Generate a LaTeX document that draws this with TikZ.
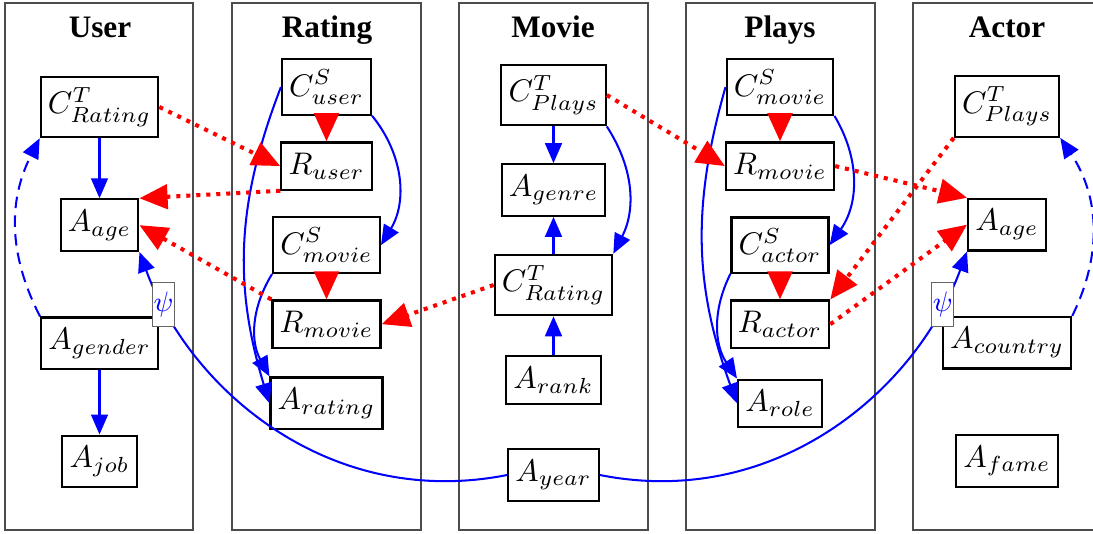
\documentclass[tikz,border=0pt]{standalone}
\usepackage{fontspec}
\newfontfamily\headfont{Liberation Serif}
\usepackage{tikz}
\usetikzlibrary{arrows.meta}
\usetikzlibrary{positioning}
\tikzstyle{panel} = [draw=black!70, line width=0.4pt]
\tikzstyle{head} = [font=\headfont\bfseries, anchor=base]
\tikzstyle{box} = [rectangle, draw, line width=0.7pt, inner xsep=2.3pt, inner ysep=3.4pt]
\tikzstyle{edge} = [draw=blue, line width=0.65pt, -{Triangle[length=6.4pt,width=5.4pt]}]
\tikzstyle{dashedge} = [edge, dash pattern=on 3.7pt off 2.3pt]
\tikzstyle{redge} = [draw=red, line width=1.3pt, dash pattern=on 1.3pt off 1.9pt,
    -{Triangle[length=9pt,width=7.8pt]}]
\tikzstyle{psi} = [draw=black!60, line width=0.3pt, fill=white, text=blue,
    font=\small, inner xsep=0.3pt, inner ysep=3pt]

\begin{document}
\begin{tikzpicture}[x=0.32pt, y=0.32pt, node distance=2cm]
  \useasboundingbox (0,0) rectangle (1093,-533);
  % Tables
  \draw [panel] (5,-3) rectangle (193,-530);
  \draw [panel] (232,-3) rectangle (421,-530);
  \draw [panel] (459,-3) rectangle (648,-530);
  \draw [panel] (686,-3) rectangle (875,-530);
  \draw [panel] (1093,-3) -- (913,-3) -- (913,-530) -- (1093,-530);
  \node [head] (huser) at (100,-37) {User};
  \node [head] (hrating) at (327,-37) {Rating};
  \node [head] (hmovie) at (553,-37) {Movie};
  \node [head] (hplays) at (780,-37) {Plays};
  \node [head] (hactor) at (1007,-37) {Actor};

  % Place nodes
  \node [box] (uctrating) at (99.5,-107) {$C^{T}_{Rating}$};
  \node [box, below of=uctrating, node distance=37.8pt] (uage) {$A_{age}$};
  \node [box, below of=uage, node distance=37.8pt] (ugender) {$A_{gender}$};
  \node [box, below of=ugender, node distance=37.8pt] (ujob) {$A_{job}$};

  \node [box] (csuser) at (326.5,-87) {$C^{S}_{user}$};
  \node [box, below of=csuser, node distance=25.3pt] (ruser) {$R_{user}$};
  \node [box, below of=ruser, node distance=25.3pt] (csmovie) {$C^{S}_{movie}$};
  \node [box, below of=csmovie, node distance=25.3pt] (rmovie) {$R_{movie}$};
  \node [box, below of=rmovie, node distance=25.3pt] (arating) {$A_{rating}$};

  \node [box] (ctplays) at (553.5,-95) {$C^{T}_{Plays}$};
  \node [box, below of=ctplays, node distance=30.4pt] (agenre) {$A_{genre}$};
  \node [box, below of=agenre, node distance=30.4pt] (ctrating) {$C^{T}_{Rating}$};
  \node [box, below of=ctrating, node distance=30.4pt] (arank) {$A_{rank}$};
  \node [box, below of=arank, node distance=30.4pt] (ayear) {$A_{year}$};

  \node [box] (pcsmovie) at (780,-87) {$C^{S}_{movie}$};
  \node [box, below of=pcsmovie, node distance=25.3pt] (prmovie) {$R_{movie}$};
  \node [box, below of=prmovie, node distance=25.3pt] (pcsactor) {$C^{S}_{actor}$};
  \node [box, below of=pcsactor, node distance=25.3pt] (pract) {$R_{actor}$};
  \node [box, below of=pract, node distance=25.3pt] (arole) {$A_{role}$};

  \node [box] (actplays) at (1007,-106.5) {$C^{T}_{Plays}$};
  \node [box, below of=actplays, node distance=37.8pt] (aage) {$A_{age}$};
  \node [box, below of=aage, node distance=37.8pt] (acountry) {$A_{country}$};
  \node [box, below of=acountry, node distance=37.8pt] (afame) {$A_{fame}$};

  % User
  \path [edge] (uctrating) -- (uage);
  \path [edge] (ugender) -- (ujob);
  \path [dashedge] (ugender.north west) to [bend left=27] (uctrating.south west);

  % Rating
  \path [redge] (csuser) -- (ruser);
  \path [redge] (csmovie) -- (rmovie);
  \path [edge] (csuser.south east) to [bend left=35] (csmovie.east);
  \path [edge] (csuser.west) to [bend right=19] (arating.west);
  \path [edge] (csmovie.south west) to [bend right=30] (arating.north west);

  % Movie
  \path [edge] (ctplays) -- (agenre);
  \path [edge] (ctrating) -- (agenre);
  \path [edge] (arank) -- (ctrating);
  \path [edge] (ctplays.south east) to [bend left=30] (ctrating.north east);

  % Plays
  \path [redge] (pcsmovie) -- (prmovie);
  \path [redge] (pcsactor) -- (pract);
  \path [edge] (pcsmovie.south east) to [bend left=33] (pcsactor.east);
  \path [edge] (pcsmovie.west) to [bend right=18] (arole.west);
  \path [edge] (pcsactor.south west) to [bend right=30] (arole.north west);

  % Actor
  \path [dashedge] (acountry.north east) to [bend right=30] (actplays.south east);

  % Between tables
  \path [redge] (uctrating.east) -- (ruser.west);
  \path [redge] (ruser.south west) -- (uage.north east);
  \path [redge] (rmovie.north west) -- (uage.east);
  \path [redge] (ctrating.west) -- (rmovie.east);
  \path [redge] (ctplays.east) -- (prmovie.west);
  \path [redge] (prmovie.east) -- (aage.north west);
  \path [redge] (actplays.south west) -- (pract.north east);
  \path [redge] (pract.east) -- (aage.west);

  \path [edge] (ayear.west) .. controls (330,-510) and (190,-390) ..
    node [psi, pos=.87] (psiu) {$\psi$} (uage.south east);
  \path [edge] (ayear.east) .. controls (776,-510) and (916,-390) ..
    node [psi, pos=.87] (psia) {$\psi$} (aage.south west);
\end{tikzpicture}
\end{document}
